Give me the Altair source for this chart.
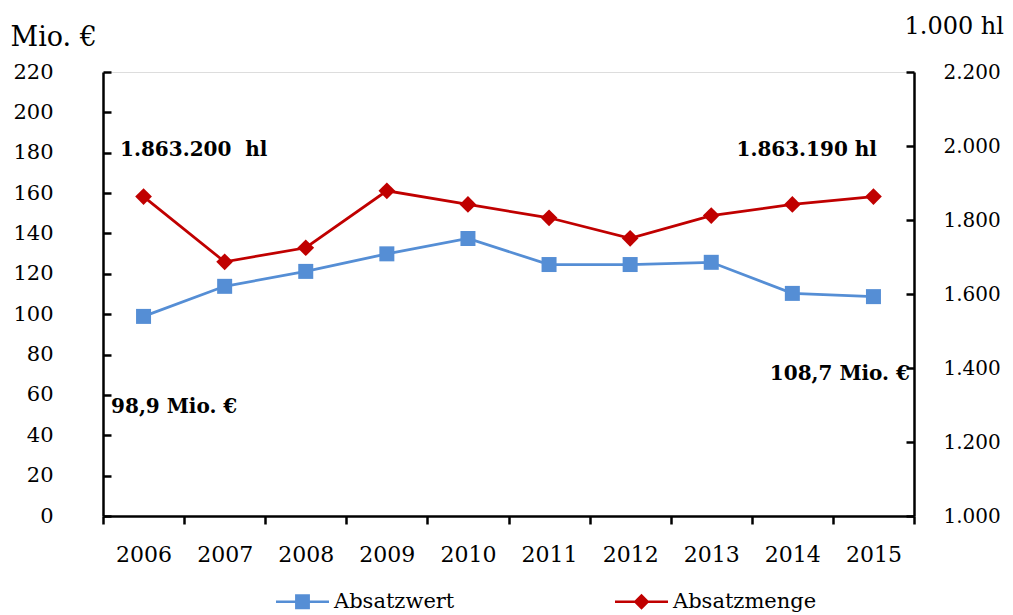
import altair as alt
import pandas as pd

FONT = "DejaVu Serif"

# ---- data ----
years = [2006, 2007, 2008, 2009, 2010, 2011, 2012, 2013, 2014, 2015]
absatzwert = [98.9, 113.8, 121.2, 129.9, 137.5, 124.6, 124.6, 125.7, 110.3, 108.7]        # Mio. €
absatzmenge = [1863.2, 1687, 1725, 1879, 1842, 1806, 1750.5, 1812, 1842, 1863.19]        # 1.000 hl
series_names = ["Absatzwert", "Absatzmenge"]
series_colors = ["#558ED5", "#C00000"]
left_ticks = [0, 20, 40, 60, 80, 100, 120, 140, 160, 180, 200, 220]
right_ticks = [1000, 1200, 1400, 1600, 1800, 2000, 2200]
left_title = "Mio. €"
right_title = "1.000 hl"
annotations = ["1.863.200\u00a0\u00a0hl", "1.863.190 hl", "98,9 Mio. €", "108,7 Mio. €"]

W, H = 811, 444

df = pd.DataFrame({"year": years, "wert": absatzwert, "menge": absatzmenge})
legend_df = pd.DataFrame({"series": series_names})

base = alt.Chart(df)

x_enc = alt.X(
    "year:O",
    bandPosition=0.5,
    scale=alt.Scale(type="band", paddingInner=0, paddingOuter=0),
    axis=alt.Axis(
        title=None, labelAngle=0, tickBand="extent", tickSize=8, tickWidth=2.5,
        tickColor="black", domainColor="black", domainWidth=2.5,
        labelFont=FONT, labelFontSize=22, labelColor="black", labelPadding=20,
        grid=False,
    ),
)

left_scale = alt.Scale(domain=[0, 220], nice=False, zero=False)
right_scale = alt.Scale(domain=[1000, 2200], nice=False, zero=False)

# main left axis (labels + domain line)
y_left_main = alt.Y(
    "wert:Q", scale=left_scale,
    axis=alt.Axis(
        orient="left", values=left_ticks, ticks=False, domain=True,
        domainColor="black", domainWidth=2.5, grid=False,
        labelFont=FONT, labelFontSize=21, labelColor="black", labelPadding=50,
        title=left_title, titleAngle=0, titleX=-93, titleY=-27,
        titleAlign="left", titleBaseline="alphabetic", titleFont=FONT,
        titleFontSize=27, titleFontWeight="normal", titleColor="black",
    ),
)
# inward ticks for the left scale
y_left_ticks = alt.Y(
    "wert:Q", scale=left_scale,
    axis=alt.Axis(
        orient="right", offset=-W, values=left_ticks, labels=False, domain=False,
        ticks=True, tickSize=8, tickWidth=2.5, tickColor="black", grid=False, title=None,
    ),
)

y_right_main = alt.Y(
    "menge:Q", scale=right_scale,
    axis=alt.Axis(
        orient="right", values=right_ticks, ticks=False, domain=True,
        domainColor="black", domainWidth=2.5, grid=False,
        labelFont=FONT, labelFontSize=20, labelColor="black", labelPadding=29,
        labelExpr="replace(format(datum.value, ','), ',', '.')",
        title=right_title, titleAngle=0, titleX=-10, titleY=-39,
        titleAlign="left", titleBaseline="alphabetic", titleFont=FONT,
        titleFontSize=24, titleFontWeight="normal", titleColor="black",
    ),
)
y_right_ticks = alt.Y(
    "menge:Q", scale=right_scale,
    axis=alt.Axis(
        orient="left", offset=-W, values=right_ticks, labels=False, domain=False,
        ticks=True, tickSize=8, tickWidth=2.5, tickColor="black", grid=False, title=None,
    ),
)


def annotation(field, yscale, year, label, align, dx, dy):
    return base.transform_filter(alt.datum.year == year).mark_text(
        align=align, baseline="alphabetic", dx=dx, dy=dy, font=FONT,
        fontSize=20, fontWeight="bold", color="black",
    ).encode(x=x_enc, y=alt.Y(f"{field}:Q", scale=yscale, axis=None), text=alt.value(label))


left_line = base.mark_line(color=series_colors[0], strokeWidth=2.75).encode(x=x_enc, y=y_left_main)
left_pts = base.mark_point(shape="square", filled=True, size=225, opacity=1,
                           color=series_colors[0]).encode(x=x_enc, y=y_left_ticks)
left_layer = alt.layer(
    left_line, left_pts,
    annotation("wert", left_scale, years[0], annotations[2], "left", -32.5, 96.6),
    annotation("wert", left_scale, years[-1], annotations[3], "right", 36.5, 83.4),
).resolve_axis(y="independent")

right_line = base.mark_line(color=series_colors[1], strokeWidth=2.75).encode(x=x_enc, y=y_right_main)
right_pts = base.mark_point(shape="diamond", filled=True, size=280, opacity=1,
                            color=series_colors[1]).encode(x=x_enc, y=y_right_ticks)
right_layer = alt.layer(
    right_line, right_pts,
    annotation("menge", right_scale, years[0], annotations[0], "left", -23.5, -41),
    annotation("menge", right_scale, years[-1], annotations[1], "right", 3.5, -41),
).resolve_axis(y="independent")

# legend symbols: line with marker (custom paths in a -1..1 box)
sym_square = "M-1,-0.047H1V0.047H-1Z M-0.28,-0.28H0.28V0.28H-0.28Z"
sym_diamond = "M-1,-0.047H1V0.047H-1Z M0,-0.3L0.3,0L0,0.3L-0.3,0Z"
legend_def = alt.Legend(
    title=None, orient="none", legendX=173, legendY=503, direction="horizontal",
    columns=2, symbolSize=2809, symbolStrokeWidth=0, symbolOpacity=1,
    labelFont=FONT, labelFontSize=21, labelColor="black", labelOffset=5,
    columnPadding=160, padding=0,
)
legend_layer = alt.Chart(legend_df).transform_filter("false").mark_point(
    filled=True, opacity=1
).encode(
    color=alt.Color("series:N", scale=alt.Scale(domain=series_names, range=series_colors), legend=legend_def),
    shape=alt.Shape("series:N", scale=alt.Scale(domain=series_names, range=[sym_square, sym_diamond]), legend=legend_def),
)

chart = alt.layer(left_layer, right_layer, legend_layer).resolve_scale(
    y="independent"
).properties(
    width=W, height=H,
    padding={"left": 95, "top": 64, "right": 91, "bottom": 100},
    autosize=alt.AutoSizeParams(type="none"),
).configure_view(strokeWidth=0).configure(background="white")

chart.save("out.html", embed_options={"renderer": "svg", "actions": False})
